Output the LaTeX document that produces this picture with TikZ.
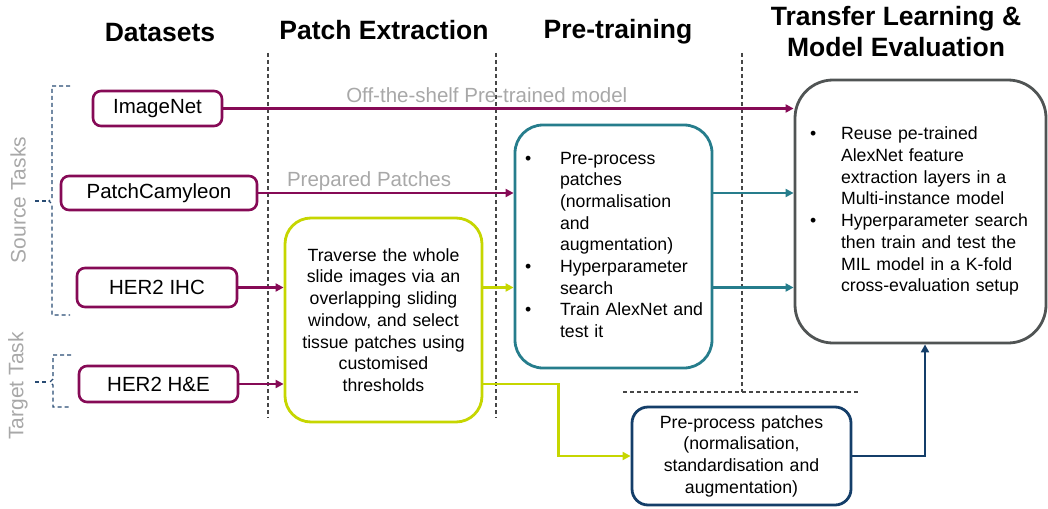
\documentclass[tikz,border=0pt]{standalone}
\usepackage{fontspec}
\setmainfont{Liberation Sans}
\usetikzlibrary{arrows.meta}
\definecolor{cpurple}{RGB}{134,10,86}
\definecolor{cgreen}{RGB}{198,214,0}
\definecolor{cteal}{RGB}{38,125,140}
\definecolor{cnavy}{RGB}{20,62,105}
\definecolor{cgraybox}{RGB}{80,84,84}
\definecolor{clabel}{RGB}{168,168,168}
\definecolor{cdash}{RGB}{70,70,70}
\definecolor{cbracket}{RGB}{40,75,115}
\tikzset{
  head/.style={font=\fontsize{26.5}{31}\selectfont\bfseries, align=center, inner sep=0pt},
  ds/.style={draw=cpurple, line width=2.6pt, rounded corners=8pt, fill=white,
    font=\fontsize{20.5}{24}\selectfont, inner sep=0pt},
  arr/.style={line width=2.7pt, -{Triangle[length=8pt,width=8pt]}},
  sepline/.style={draw=cdash, line width=1.1pt, dash pattern=on 4pt off 3pt},
  brk/.style={draw=cbracket, line width=1.3pt, dash pattern=on 4pt off 3pt},
  side/.style={text=clabel, font=\fontsize{21}{25}\selectfont, rotate=90, inner sep=0pt},
  lbl/.style={text=clabel, font=\fontsize{20.5}{24}\selectfont, anchor=base, inner sep=0pt},
  body/.style={font=\fontsize{17.7}{21.7}\selectfont, line width=2.8pt, fill=white}
}
\begin{document}
\begin{tikzpicture}[x=1pt,y=-1pt]
\useasboundingbox (0,0) rectangle (1048,508);

% headers
\node[head] (hds) at (160,33) {Datasets};
\node[head] (hpe) at (384,30) {Patch Extraction};
\node[head] (hpt) at (618,32) {Pre-training};
\node[head] (htl) at (896,31.5) {Transfer Learning \&\\Model Evaluation};

% separators
\draw[sepline] (268,53) -- (268,418);
\draw[sepline] (496,53) -- (496,418);
\draw[sepline] (742,53) -- (742,392);
\draw[sepline] (623,392) -- (860,392);

% side labels and brackets
\node[side] (src) at (18,200) {Source Tasks};
\node[side] (tgt) at (18,386) {Target Task};
\draw[brk] (70,86) -- (52,86) -- (52,198) -- (49,201) -- (52,204) -- (52,315) -- (70,315);
\draw[brk] (35,201) -- (47,201);
\draw[brk] (71,355) -- (53,355) -- (53,379) -- (50,382) -- (53,385) -- (53,407) -- (71,407);
\draw[brk] (35,382) -- (48,382);

% dataset boxes
\node[ds, minimum width=129pt, minimum height=35pt] (imagenet) at (157.5,108.5) {ImageNet};
\node[ds, minimum width=196pt, minimum height=34pt] (pcam) at (159,193) {PatchCamyleon};
\node[ds, minimum width=160pt, minimum height=39pt] (ihc) at (157,287.5) {HER2 IHC};
\node[ds, minimum width=159pt, minimum height=36pt] (he) at (158.5,384) {HER2 H\&E};

% process boxes
\node[body, draw=cgreen, rounded corners=26pt, minimum width=197pt, minimum height=204pt,
      text width=175pt, align=center, inner sep=0pt] (patch) at (383.5,320)
  {Traverse the whole\\slide images via an\\overlapping sliding\\window, and select\\tissue patches using\\customised\\thresholds};

\node[body, draw=cteal, rounded corners=28pt, minimum width=197pt, minimum height=243pt,
      text width=177pt, align=left, inner xsep=10pt, inner ysep=0pt] (pre) at (613.5,246.5)
  {\begin{tabular}{@{}p{35pt}@{}l@{}}
   \textbullet & Pre-process\\
   & patches\\
   & (normalisation\\
   & and\\
   & augmentation)\\
   \textbullet & Hyperparameter\\
   & search\\
   \textbullet & Train AlexNet and\\
   & test it
   \end{tabular}};

\node[body, draw=cgraybox, rounded corners=38pt, minimum width=251pt, minimum height=263pt,
      text width=221pt, align=left, inner xsep=15pt, inner ysep=0pt] (transfer) at (920.5,211.5)
  {\begin{tabular}{@{}p{31pt}@{}l@{}}
   \textbullet & Reuse pe-trained\\
   & AlexNet feature\\
   & extraction layers in a\\
   & Multi-instance model\\
   \textbullet & Hyperparameter search\\
   & then train and test the\\
   & MIL model in a K-fold\\
   & cross-evaluation setup
   \end{tabular}};

\node[body, draw=cnavy, rounded corners=16pt, minimum width=219pt, minimum height=98pt,
      text width=200pt, align=center, inner sep=0pt] (bottom) at (741.5,456)
  {Pre-process patches\\(normalisation,\\standardisation and\\augmentation)};

% connectors
\draw[arr, cpurple] (imagenet.east) -- node[lbl, pos=0.462, yshift=6pt] {Off-the-shelf Pre-trained model} (imagenet.east -| transfer.west);
\draw[arr, cpurple] (pcam.east) -- node[lbl, pos=0.434, yshift=7pt] {Prepared Patches} (pcam.east -| pre.west);
\draw[arr, cpurple] (ihc.east) -- (ihc.east -| patch.west);
\draw[arr, cpurple] (he.east) -- (he.east -| patch.west);
\draw[arr, cgreen] (ihc.east -| patch.east) -- (ihc.east -| pre.west);
\draw[arr, cgreen] (he.east -| patch.east) -- ++(75,0) |- (bottom.west);
\draw[arr, cteal] (pcam.east -| pre.east) -- (pcam.east -| transfer.west);
\draw[arr, cteal] (ihc.east -| pre.east) -- (ihc.east -| transfer.west);
\draw[arr, cnavy] (bottom.east) -| ([xshift=4.5pt]transfer.south);
\end{tikzpicture}
\end{document}
